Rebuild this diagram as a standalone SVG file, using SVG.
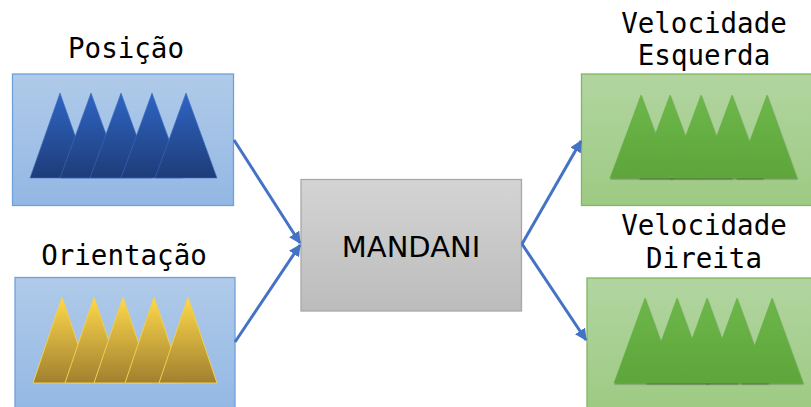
<svg xmlns="http://www.w3.org/2000/svg" width="811" height="407" viewBox="0 0 811 407">
<defs>
<linearGradient id="gBlueBox" x1="0" y1="0" x2="0" y2="1"><stop offset="0" stop-color="#b0cbe9"/><stop offset="1" stop-color="#93b7e4"/></linearGradient>
<linearGradient id="gGreenBox" x1="0" y1="0" x2="0" y2="1"><stop offset="0" stop-color="#b2d5a0"/><stop offset="1" stop-color="#9dca83"/></linearGradient>
<linearGradient id="gGrey" x1="0" y1="0" x2="0" y2="1"><stop offset="0" stop-color="#d4d4d4"/><stop offset="1" stop-color="#bcbcbc"/></linearGradient>
<linearGradient id="gBlueTri" x1="0" y1="0" x2="0" y2="1"><stop offset="0" stop-color="#2f65c4"/><stop offset="1" stop-color="#1e3c78"/></linearGradient>
<linearGradient id="gGoldTri" x1="0" y1="0" x2="0" y2="1"><stop offset="0" stop-color="#ffd94c"/><stop offset="1" stop-color="#a0802f"/></linearGradient>
<linearGradient id="gGreenTri" x1="0" y1="0" x2="0" y2="1"><stop offset="0" stop-color="#6cb74a"/><stop offset="1" stop-color="#5ea53a"/></linearGradient>
<filter id="shadow" x="-10%" y="-10%" width="130%" height="130%"><feDropShadow dx="0.5" dy="1.2" stdDeviation="0.5" flood-color="#000" flood-opacity="0.4"/></filter>
<marker id="arrow" viewBox="0 0 10 10" refX="9" refY="5" markerWidth="4" markerHeight="4" orient="auto"><path d="M0,0 L10,5 L0,10 z" fill="#4472c4"/></marker>
<style>
.lbl{font-family:"DejaVu Sans Mono","Liberation Mono",monospace;font-size:27.5px;fill:#000;text-anchor:middle}
.blueBox{fill:url(#gBlueBox);stroke:#6ea0dc;stroke-width:1.3}
.greenBox{fill:url(#gGreenBox);stroke:#7fb85e;stroke-width:1.3}
.blueTri{fill:url(#gBlueTri);stroke:#3a6cc0;stroke-width:0.6}
.goldTri{fill:url(#gGoldTri);stroke:#f2cf52;stroke-width:1}
.greenTri{fill:url(#gGreenTri);stroke:#66ad45;stroke-width:0.5;filter:url(#shadow)}
.conn{stroke:#4472c4;stroke-width:3;fill:none;marker-end:url(#arrow)}
</style>
</defs>
<g id="posicao">
<text class="lbl" x="126" y="58">Posição</text>
<rect class="blueBox" x="12.5" y="74" width="221" height="131.5"/>
<polygon class="blueTri" points="30,178 60,93 90,178"/>
<polygon class="blueTri" points="60,178 91,93 122,178"/>
<polygon class="blueTri" points="90,178 121,93 152,178"/>
<polygon class="blueTri" points="121,178 152,93 183,178"/>
<polygon class="blueTri" points="155,178 186,93 217,178"/>
</g>
<g id="orientacao">
<text class="lbl" x="124" y="265">Orientação</text>
<rect class="blueBox" x="15" y="277.5" width="220" height="135"/>
<polygon class="goldTri" points="33,383 62,297 91,383"/>
<polygon class="goldTri" points="65,383 94,297 123,383"/>
<polygon class="goldTri" points="94,383 123,297 152,383"/>
<polygon class="goldTri" points="125,383 154,297 183,383"/>
<polygon class="goldTri" points="159,383 188,297 217,383"/>
</g>
<g id="mandani">
<rect x="301" y="179.5" width="220.5" height="131.5" fill="url(#gGrey)" stroke="#a8a8a8" stroke-width="1.3"/>
<text x="411" y="257" font-family="DejaVu Sans,Verdana,sans-serif" font-size="29" text-anchor="middle" fill="#000">MANDANI</text>
</g>
<g id="velocidade-esquerda">
<text class="lbl" x="704" y="33">Velocidade</text>
<text class="lbl" x="704" y="65">Esquerda</text>
<rect class="greenBox" x="581.5" y="74" width="240" height="131.5"/>
<polygon class="greenTri" points="610,178 641,95 672,178"/>
<polygon class="greenTri" points="639,178 670,95 701,178"/>
<polygon class="greenTri" points="670,178 701,95 732,178"/>
<polygon class="greenTri" points="701,178 732,95 763,178"/>
<polygon class="greenTri" points="736,178 767,95 797,178"/>
</g>
<g id="velocidade-direita">
<text class="lbl" x="704" y="235">Velocidade</text>
<text class="lbl" x="704" y="268">Direita</text>
<rect class="greenBox" x="587" y="278" width="240" height="135"/>
<polygon class="greenTri" points="614,383 645,298 676,383"/>
<polygon class="greenTri" points="646,383 677,298 708,383"/>
<polygon class="greenTri" points="676,383 707,298 738,383"/>
<polygon class="greenTri" points="706,383 737,298 768,383"/>
<polygon class="greenTri" points="741,383 772,298 803,383"/>
</g>
<g id="connectors">
<line class="conn" x1="234" y1="140" x2="300" y2="243"/>
<line class="conn" x1="235" y1="342" x2="300" y2="245"/>
<line class="conn" x1="522" y1="244" x2="581" y2="141"/>
<line class="conn" x1="522" y1="244" x2="586" y2="340"/>
</g>
</svg>
